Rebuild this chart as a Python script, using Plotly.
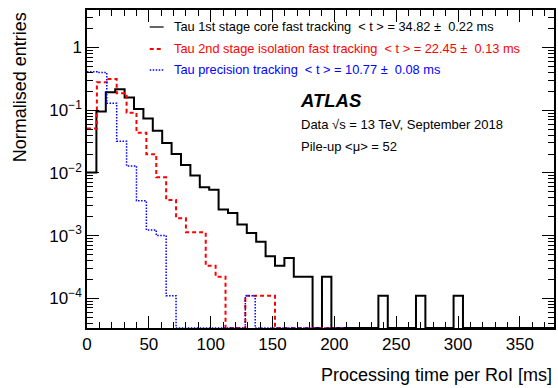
import numpy as np
import plotly.graph_objects as go

# Per-RoI processing time histograms (normalised to unit area)
# 1st-stage core fast tracking: 7.6 ms bins starting at 0
core_bin_width = 7.6
core_values = [
    0.0101, 0.095, 0.193, 0.216, 0.160, 0.104, 0.074, 0.047, 0.030, 0.020,
    0.0134, 0.0091, 0.0059, 0.0054, 0.0026, 0.0023, 0.0015, 0.0011, 0.0008, 0.00047,
    0.00033, 0.00044, 0.00022, 0.00022, 0.0, 0.00022, 0.0, 0.0, 0.0, 0.0,
    0.0, 0.00011, 0.0, 0.0, 0.0, 0.00011, 0.0, 0.0, 0.0, 0.00011,
    0.0, 0.0, 0.0, 0.0, 0.0, 0.0, 0.0, 0.0, 0.0, 0.0,
]

# 2nd-stage isolation fast tracking and precision tracking: 8 ms bins
iso_bin_width = 8.0
iso_values = [
    0.051, 0.279, 0.315, 0.186, 0.091, 0.0438, 0.0198, 0.0085, 0.0037, 0.00189,
    0.00113, 0.00113, 0.00033, 0.00022, 0.0, 0.0, 0.00011, 0.00011, 0.00011, 0.0,
    0.0, 0.0, 0.0, 0.0, 0.0, 0.0,
]
prec_values = [
    0.41, 0.40, 0.129, 0.032, 0.0129, 0.0036, 0.00123, 0.0010, 0.00011, 0.0,
    0.0, 0.0, 0.0, 0.0, 0.0, 0.0, 0.00011, 0.0, 0.0, 0.0,
    0.0, 0.0, 0.0, 0.0, 0.0, 0.0,
]

legend_labels = [
    "Tau 1st stage core fast tracking\u00a0\u00a0&lt; t &gt; = 34.82 ±\u00a0\u00a00.22 ms",
    "Tau 2nd stage isolation fast tracking\u00a0\u00a0&lt; t &gt; = 22.45 ±\u00a0\u00a00.13 ms",
    "Tau precision tracking\u00a0\u00a0&lt; t &gt; = 10.77 ±\u00a0\u00a00.08 ms",
]
colors = ["#000000", "#ff0000", "#0000ff"]
dashes = ["solid", "4px,3px", "1.5px,1.5px"]
widths = [2.0, 2.0, 1.5]

x_range = [0, 377.6]
log_range = [-4.474, 0.598]
y_floor = 10 ** log_range[0]

W, H = 558, 388
ML, MR, MT, MB = 87, 2, 10, 60
PW, PH = W - ML - MR, H - MT - MB


def px_x(px):
    return (px - ML) / PW


def px_y(py):
    return (H - MB - py) / PH


def step_xy(values, width):
    vals = np.asarray(values, dtype=float)
    edges = np.arange(len(vals) + 1) * width
    # empty bins sit on the lower frame edge, as on a log histogram
    vals = np.where(vals > 0, vals, y_floor)
    return edges, np.append(vals, vals[-1])


fig = go.Figure()
series = [(core_values, core_bin_width), (iso_values, iso_bin_width), (prec_values, iso_bin_width)]
for (vals, bw), c, d, w in zip(series, colors, dashes, widths):
    xs, ys = step_xy(vals, bw)
    fig.add_trace(go.Scatter(
        x=xs, y=ys, mode="lines", line=dict(color=c, dash=d, width=w, shape="hv"),
        showlegend=False, hoverinfo="skip", cliponaxis=True,
    ))

font = "Liberation Sans, Arial, Helvetica, sans-serif"

# Legend block
legend_rows = [27, 49, 70]
for label, c, d, w, row in zip(legend_labels, colors, dashes, widths, legend_rows):
    fig.add_shape(type="line", xref="paper", yref="paper",
                  x0=px_x(150), x1=px_x(164), y0=px_y(row), y1=px_y(row),
                  line=dict(color=c, dash=d, width=1.2 if d == "solid" else w))
    fig.add_annotation(xref="paper", yref="paper", x=px_x(172), y=px_y(row),
                       xanchor="left", yanchor="middle", showarrow=False,
                       text=label, font=dict(family=font, size=12.8, color=c))

# Experiment label
fig.add_annotation(xref="paper", yref="paper", x=px_x(299), y=px_y(100),
                   xanchor="left", yanchor="middle", showarrow=False,
                   text="<b><i>ATLAS</i></b>", font=dict(family=font, size=18.5, color="black"))
fig.add_annotation(xref="paper", yref="paper", x=px_x(300), y=px_y(124),
                   xanchor="left", yanchor="middle", showarrow=False,
                   text="Data √s = 13 TeV, September 2018", font=dict(family=font, size=13, color="black"))
fig.add_annotation(xref="paper", yref="paper", x=px_x(300), y=px_y(146),
                   xanchor="left", yanchor="middle", showarrow=False,
                   text="Pile-up &lt;μ&gt; = 52", font=dict(family=font, size=13, color="black"))

# Axis titles
fig.add_annotation(xref="paper", yref="paper", x=1.0, y=px_y(375),
                   xanchor="right", yanchor="middle", showarrow=False,
                   text="Processing time per RoI [ms]", font=dict(family=font, size=18, color="black"))
fig.add_annotation(xref="paper", yref="paper", x=px_x(20), y=1.0,
                   xanchor="center", yanchor="top", showarrow=False, textangle=-90,
                   text="Normalised entries", font=dict(family=font, size=18, color="black"))

y_major = [1e-4, 1e-3, 1e-2, 1e-1, 1.0]
y_major_text = ["10<sup>−4</sup>", "10<sup>−3</sup>", "10<sup>−2</sup>", "10<sup>−1</sup>", "1"]
y_minor = [k * 10.0 ** e for e in range(-5, 1) for k in range(2, 10)]

fig.update_layout(
    width=W, height=H,
    margin=dict(l=ML, r=MR, t=MT, b=MB),
    paper_bgcolor="white", plot_bgcolor="white",
    font=dict(family=font, size=17, color="black"),
    xaxis=dict(
        range=x_range, showgrid=False, zeroline=False,
        showline=True, linecolor="black", linewidth=1.5, mirror="allticks",
        ticks="inside", ticklen=12, tickcolor="black", tickwidth=1,
        dtick=50, tick0=0,
        minor=dict(ticks="inside", ticklen=6, dtick=10, tickcolor="black", tickwidth=1, showgrid=False),
        tickfont=dict(family=font, size=17),
    ),
    yaxis=dict(
        type="log", range=log_range, showgrid=False, zeroline=False,
        showline=True, linecolor="black", linewidth=1.5, mirror="allticks",
        ticks="inside", ticklen=12, tickcolor="black", tickwidth=1,
        tickmode="array", tickvals=y_major, ticktext=y_major_text,
        minor=dict(ticks="inside", ticklen=6, tickmode="array", tickvals=y_minor,
                   tickcolor="black", tickwidth=1, showgrid=False),
        tickfont=dict(family=font, size=17),
    ),
)

fig.write_html("out.html")
